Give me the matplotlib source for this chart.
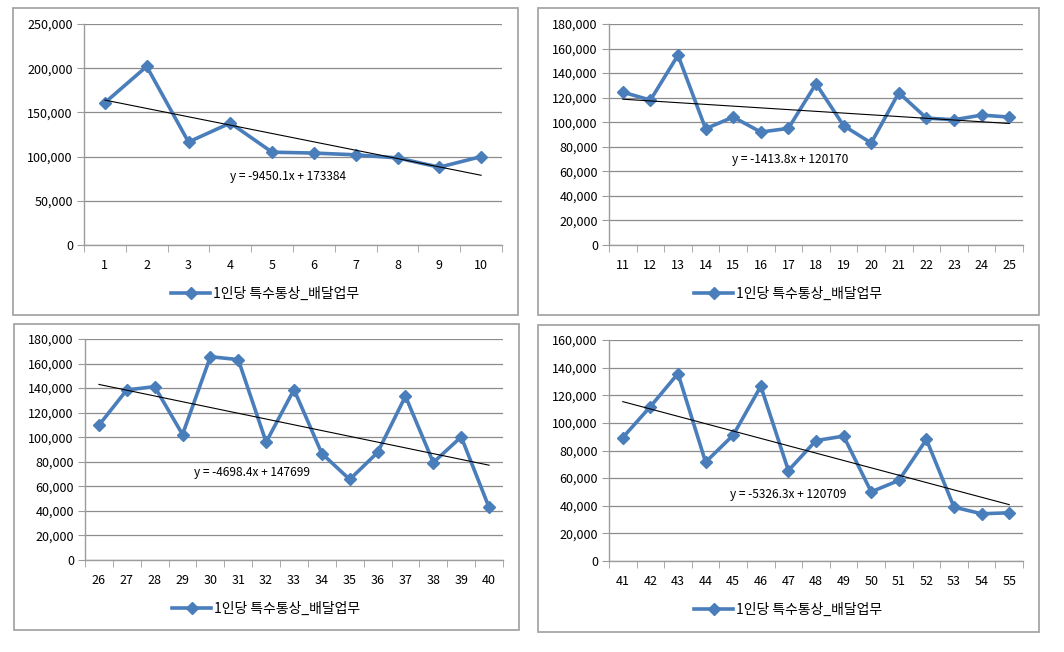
import numpy as np
import matplotlib.pyplot as plt
from matplotlib.patches import Rectangle
from matplotlib.ticker import FuncFormatter, FixedLocator

plt.rcParams['font.family'] = ['Noto Sans CJK KR', 'DejaVu Sans']

# 1인당 특수통상_배달업무 (4 구간)
x1 = list(range(1, 11))
v1 = [161000, 202000, 116500, 138000, 105000, 104000, 102000, 98500, 88000, 100000]

x2 = list(range(11, 26))
v2 = [124500, 118000, 154600, 94700, 104200, 92000, 95000, 131300, 97200, 83100,
      124000, 103400, 102000, 105800, 104200]

x3 = list(range(26, 41))
v3 = [109800, 138500, 141200, 102200, 165600, 163200, 96000, 138800, 86700, 65600,
      87600, 133400, 79400, 100300, 42800]

x4 = list(range(41, 56))
v4 = [89400, 111800, 135700, 71600, 91100, 126500, 65500, 87200, 90400, 50100,
      58300, 88000, 39000, 34200, 34900]

# 추세선 계수 (x = 1..n)
slopes = [-9450.1, -1413.8, -4698.4, -5326.3]
intercepts = [173384, 120170, 147699, 120709]
ymax = [250000, 180000, 180000, 160000]
ystep = [50000, 20000, 20000, 20000]

series_name = '1인당 특수통상_배달업무'
line_color = '#4A7EBB'
grid_color = '#8C8C8C'
axis_color = '#9C9C9C'

W, H = 1064, 652
fig = plt.figure(figsize=(W / 100, H / 100), dpi=100)

# 패널 상자 / 축 영역 (픽셀)
boxes = [(13, 8, 518, 315), (538, 8, 1039, 315), (14, 324, 519, 630), (538, 325, 1039, 632)]
plots = [(84, 24, 502, 245), (609, 24, 1023, 245), (85, 339, 503, 560), (609, 340, 1023, 561)]
label_pos = [(0.488, 0.308), (0.437, 0.385), (0.40, 0.395), (0.432, 0.303)]

data = [(x1, v1), (x2, v2), (x3, v3), (x4, v4)]

for i, (xs, vs) in enumerate(data):
    bx0, by0, bx1, by1 = boxes[i]
    fig.patches.append(Rectangle((bx0 / W, 1 - by1 / H), (bx1 - bx0) / W, (by1 - by0) / H,
                                 transform=fig.transFigure, fill=False,
                                 edgecolor='#A6A6A6', linewidth=1.3))

    px0, py0, px1, py1 = plots[i]
    ax = fig.add_axes([px0 / W, 1 - py1 / H, (px1 - px0) / W, (py1 - py0) / H])
    n = len(xs)
    pos = np.arange(n) + 0.5

    ax.plot(pos, vs, color=line_color, linewidth=2.6, marker='D', markersize=6.5,
            label=series_name, zorder=3)

    t = np.arange(1, n + 1)
    trend = slopes[i] * t + intercepts[i]
    ax.plot(pos, trend, color='black', linewidth=0.8, zorder=4)
    sign = '+' if intercepts[i] >= 0 else '-'
    ax.text(label_pos[i][0], label_pos[i][1],
            f'y = {slopes[i]}x {sign} {abs(intercepts[i])}',
            transform=ax.transAxes, ha='center', va='center', fontsize=8.6)

    ax.set_xlim(0, n)
    ax.set_ylim(0, ymax[i])
    ax.set_yticks(np.arange(0, ymax[i] + 1, ystep[i]))
    ax.yaxis.set_major_formatter(FuncFormatter(lambda v, p: f'{int(v):,}'))
    ax.set_xticks(pos)
    ax.set_xticklabels([str(x) for x in xs])
    ax.xaxis.set_minor_locator(FixedLocator(np.arange(0, n + 1)))
    ax.tick_params(axis='x', which='major', length=0, pad=10, labelsize=9)
    ax.tick_params(axis='x', which='minor', length=5, color=axis_color, direction='out')
    ax.tick_params(axis='y', length=5, color=axis_color, labelsize=9, pad=3)

    ax.grid(axis='y', color=grid_color, linewidth=0.9)
    ax.set_axisbelow(True)
    for s in ['top', 'right']:
        ax.spines[s].set_visible(False)
    for s in ['left', 'bottom']:
        ax.spines[s].set_color(axis_color)
        ax.spines[s].set_linewidth(1.0)
    ax.patch.set_alpha(0)

    ax.legend(loc='center', bbox_to_anchor=(0.433, -0.22), frameon=False,
              fontsize=10, handlelength=2.8, handletextpad=0.2, borderaxespad=0)

fig.savefig('out.png', dpi=100)
